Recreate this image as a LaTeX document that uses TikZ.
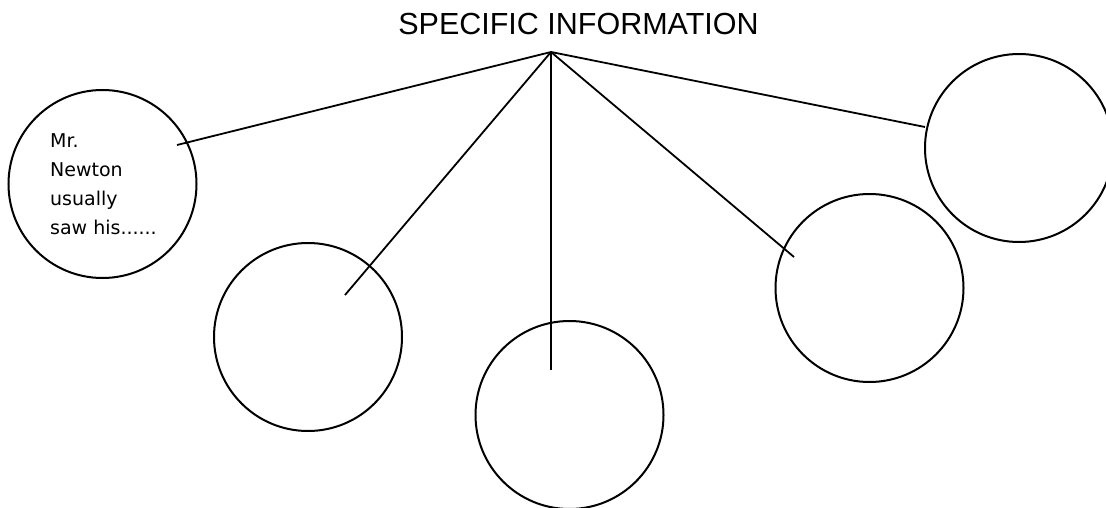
\documentclass[tikz,border=0pt]{standalone}
\usepackage{fontspec}
\setmainfont{Liberation Sans}
\newfontfamily\notefont{DejaVu Sans}
\tikzset{
  bubble/.style={draw,circle,line width=2pt,minimum size=188pt,inner sep=0pt},
  spoke/.style={line width=1.8pt},
  notetext/.style={anchor=north west,align=left,inner sep=0pt,
    font=\notefont\fontsize{19}{29.3}\selectfont}
}
\begin{document}
\begin{tikzpicture}[x=1pt,y=-1pt]
\useasboundingbox (0,0) rectangle (1106,508);
\node[anchor=base] (title) at (578.5,35) {\fontsize{30.5}{36}\selectfont SPECIFIC INFORMATION};
\coordinate (apex) at (551,52);
% circles
\node[bubble] (c1) at (102.5,184) {};
\node[bubble] (c2) at (308,337) {};
\node[bubble] (c3) at (569.5,415) {};
\node[bubble] (c4) at (869.5,288) {};
\node[bubble] (c5) at (1019,148) {};
% line ends
\coordinate (e1) at (177,145);
\coordinate (e2) at (345,295);
\coordinate (e3) at (551,370);
\coordinate (e4) at (794,257);
\coordinate (e5) at (925,127);
\foreach \i in {1,...,5}
  \draw[spoke] (apex) -- (e\i);
\node[notetext] (note) at (50,133) {Mr.\\Newton\\usually\\saw his......};
\end{tikzpicture}
\end{document}
